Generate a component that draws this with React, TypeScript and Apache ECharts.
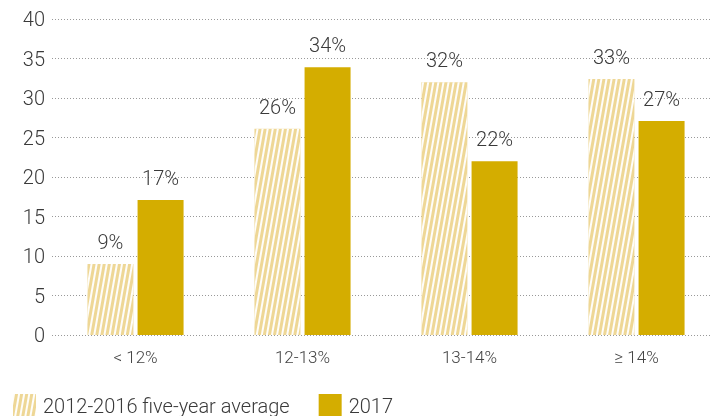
import React, { useEffect, useRef } from "react";
import * as echarts from "echarts";

const categories = ["< 12%", "12-13%", "13-14%", "≥ 14%"];
const avgValues = [9, 26.1, 32, 32.4];
const avgLabels = ["9%", "26%", "32%", "33%"];
const values2017 = [17.1, 33.9, 22, 27.1];
const labels2017 = ["17%", "34%", "22%", "27%"];
const yTicks = { min: 0, max: 40, interval: 5 };

const FONT = "Roboto";

export default function App() {
  const ref = useRef<HTMLDivElement>(null);
  useEffect(() => {
    if (!ref.current) return;
    const chart = echarts.init(ref.current, undefined, { renderer: "svg" });
    const labelStyle = {
      show: true,
      position: "top" as const,
      distance: 12,
      color: "#3a3a3a",
      fontSize: 20,
      fontFamily: FONT,
      fontWeight: 300,
    };
    chart.setOption({
      animation: false,
      grid: { left: 52, right: 10, top: 19, bottom: 81, containLabel: false },
      legend: {
        left: 8,
        top: 389,
        itemWidth: 23,
        itemHeight: 23,
        itemGap: 29,
        icon: "rect",
        textStyle: { fontSize: 20, color: "#3a3a3a", fontFamily: FONT, fontWeight: 300, padding: [0, 0, 0, 2] },
        data: ["2012-2016 five-year average", "2017"],
      },
      xAxis: {
        type: "category",
        data: categories,
        axisLine: { show: false },
        axisTick: { show: false },
        axisLabel: { color: "#444", fontSize: 17, fontFamily: FONT, fontWeight: 300, margin: 13 },
      },
      yAxis: {
        type: "value",
        min: yTicks.min,
        max: yTicks.max,
        interval: yTicks.interval,
        axisLine: { show: false },
        axisTick: { show: false },
        axisLabel: { color: "#3a3a3a", fontSize: 20, fontFamily: FONT, fontWeight: 300, margin: 7 },
        splitLine: { lineStyle: { color: "#999", type: [1, 2], width: 1 } },
      },
      series: [
        {
          name: "2012-2016 five-year average",
          type: "bar",
          data: avgValues,
          barWidth: 46,
          barGap: "9%",
          itemStyle: {
            color: "#eed796",
            decal: {
              symbol: "rect",
              symbolSize: 1,
              color: "rgba(255,255,255,0.95)",
              dashArrayX: [1, 0],
              dashArrayY: [1.3, 3],
              rotation: (-80 * Math.PI) / 180,
            },
          },
          label: { ...labelStyle, formatter: (p: any) => avgLabels[p.dataIndex] },
        },
        {
          name: "2017",
          type: "bar",
          data: values2017,
          barWidth: 46,
          barGap: "9%",
          itemStyle: { color: "#d4ad00" },
          label: { ...labelStyle, formatter: (p: any) => labels2017[p.dataIndex] },
        },
      ],
    });
    return () => chart.dispose();
  }, []);
  return (
    <div style={{ width: 710, height: 416, position: "fixed", left: 0, top: 0, overflow: "hidden" }}>
      <div ref={ref} style={{ width: 730, height: 416 }} />
    </div>
  );
}
